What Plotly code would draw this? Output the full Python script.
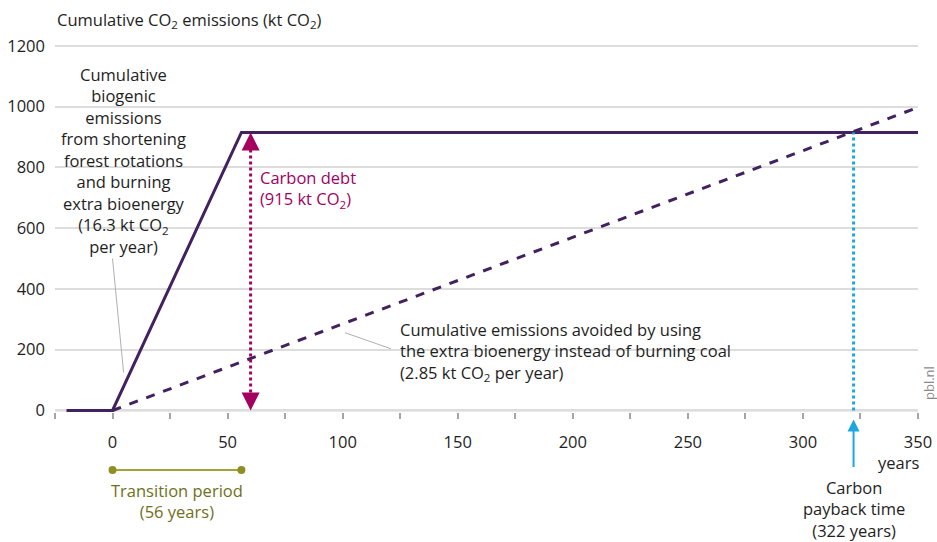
import plotly.graph_objects as go

# ---- data ----
bio_years = [-20, 0, 56, 350]
bio_cum = [0, 0, 915, 915]
coal_years = [0, 350]
coal_rate = 2.85
coal_cum = [0, coal_rate * 350]
debt_x = 60
debt_value = 915
payback_year = 322
transition_years = [0, 56]
y_ticks = [0, 200, 400, 600, 800, 1000, 1200]
x_ticks = [0, 50, 100, 150, 200, 250, 300, 350]

FONT = "Open Sans"
FS = 16.5
PURPLE = "#42215f"
MAGENTA = "#a3005f"
CYAN = "#1aa7e2"
OLIVE_LINE = "#a3a33a"
OLIVE_TEXT = "#6f7020"
TXT = "#1e1e1e"

# body margin is removed via post_script, so page pixels == figure pixels
W, H = 937, 542
PL, PR, PT, PB = 55, 918, 44, 412
L, T, R, B = PL, PT, W - PR, H - PB
pw, ph = W - L - R, H - T - B


def page_to_paper(px, py):
    return (px - PL) / pw, (PB - py) / ph


fig = go.Figure()

fig.add_trace(go.Scatter(x=coal_years, y=coal_cum, mode="lines",
                         line=dict(color=PURPLE, width=3, dash="dash"),
                         hoverinfo="skip"))
fig.add_trace(go.Scatter(x=bio_years, y=bio_cum, mode="lines",
                         line=dict(color=PURPLE, width=3),
                         hoverinfo="skip"))
fig.add_trace(go.Scatter(x=[debt_x, debt_x], y=[20, debt_value - 20], mode="lines",
                         line=dict(color=MAGENTA, width=3, dash="dot"),
                         hoverinfo="skip"))
fig.add_trace(go.Scatter(x=[payback_year, payback_year], y=[0, debt_value], mode="lines",
                         line=dict(color=CYAN, width=3, dash="dot"),
                         hoverinfo="skip"))

annotations = []
annotations.append(dict(x=debt_x, y=0, ax=debt_x, ay=60, axref="x", ayref="y",
                        xref="x", yref="y", text="", showarrow=True,
                        arrowhead=2, arrowsize=1.2, arrowwidth=3, arrowcolor=MAGENTA))
annotations.append(dict(x=debt_x, y=debt_value, ax=debt_x, ay=debt_value - 60,
                        axref="x", ayref="y", xref="x", yref="y", text="",
                        showarrow=True, arrowhead=2, arrowsize=1.2, arrowwidth=3,
                        arrowcolor=MAGENTA))
annotations.append(dict(x=payback_year, y=0, xref="x", yref="y", ax=0, ay=58,
                        text="", showarrow=True, standoff=9, arrowhead=2,
                        arrowsize=1.2, arrowwidth=2, arrowcolor=CYAN))
annotations.append(dict(x=payback_year, y=0, xref="x", yref="y", yshift=-99,
                        text="Carbon<br>payback time<br>(322 years)", showarrow=False,
                        font=dict(family=FONT, size=FS, color=TXT), align="center"))
annotations.append(dict(x=debt_x + 3, y=812, xref="x", yref="y", xanchor="left",
                        yanchor="top", align="left", showarrow=False,
                        text="Carbon debt<br>(915 kt CO<sub>2</sub>)",
                        font=dict(family=FONT, size=FS, color=MAGENTA)))
annotations.append(dict(x=124, y=312, xref="x", yref="y", xanchor="left",
                        yanchor="top", align="left", showarrow=False,
                        text="Cumulative emissions avoided by using<br>the extra bioenergy instead of burning coal<br>(2.85 kt CO<sub>2</sub> per year)",
                        font=dict(family=FONT, size=FS, color=TXT)))
annotations.append(dict(x=4.8, y=1150, xref="x", yref="y", xanchor="center",
                        yanchor="top", align="center", showarrow=False,
                        text="Cumulative<br>biogenic<br>emissions<br>from shortening<br>forest rotations<br>and burning<br>extra bioenergy<br>(16.3 kt CO<sub>2</sub><br>per year)",
                        font=dict(family=FONT, size=FS, color=TXT)))
annotations.append(dict(x=(transition_years[0] + transition_years[1]) / 2, y=0,
                        xref="x", yref="y", yshift=-91, showarrow=False,
                        text="Transition period<br>(56 years)", align="center",
                        font=dict(family=FONT, size=FS, color=OLIVE_TEXT)))
annotations.append(dict(x=350, y=0, xref="x", yref="y", yshift=-52, xshift=-20,
                        showarrow=False, text="years",
                        font=dict(family=FONT, size=FS, color=TXT)))
tx, ty = page_to_paper(55, 20)
annotations.append(dict(x=tx, y=ty, xref="paper", yref="paper", xanchor="left",
                        yanchor="middle", showarrow=False,
                        text="Cumulative CO<sub>2</sub> emissions (kt CO<sub>2</sub>)",
                        font=dict(family=FONT, size=FS, color=TXT)))
px_, py_ = page_to_paper(929, 383)
annotations.append(dict(x=px_, y=py_, xref="paper", yref="paper", xanchor="center",
                        yanchor="middle", showarrow=False, text="pbl.nl", textangle=-90,
                        font=dict(family=FONT, size=13, color="#8a8a8a")))

shapes = [
    dict(type="line", x0=-25, x1=350, y0=0, y1=0, xref="x", yref="y",
         line=dict(color="#a6a6a6", width=1.5), layer="below"),
    dict(type="line", x0=101, y0=256, x1=121, y1=203, xref="x", yref="y",
         line=dict(color="#b0b0b0", width=1)),
    dict(type="line", x0=0, y0=500, x1=4.8, y1=125, xref="x", yref="y",
         line=dict(color="#b0b0b0", width=1)),
]
_, trans_y = page_to_paper(0, 470)
shapes.append(dict(type="line", xref="x", yref="paper", x0=transition_years[0],
                   x1=transition_years[1], y0=trans_y, y1=trans_y,
                   line=dict(color=OLIVE_LINE, width=2)))
for t in transition_years:
    shapes.append(dict(type="circle", xref="x", yref="paper", xsizemode="pixel",
                       ysizemode="pixel", xanchor=t, yanchor=trans_y,
                       x0=-4, x1=4, y0=-4, y1=4,
                       fillcolor="#8e8e25", line=dict(width=0)))

fig.update_layout(
    width=W, height=H,
    margin=dict(l=L, r=R, t=T, b=B, pad=0, autoexpand=False),
    paper_bgcolor="white", plot_bgcolor="white",
    showlegend=False,
    font=dict(family=FONT, size=FS, color=TXT),
    annotations=annotations,
    shapes=shapes,
    xaxis=dict(range=[-25, 350], tickvals=x_ticks, ticktext=[str(v) for v in x_ticks],
               showgrid=False, zeroline=False, showline=False,
               ticks="outside", ticklen=6, tickcolor="#a6a6a6", tickwidth=1.5,
               ticklabelstandoff=9,
               minor=dict(dtick=25, tick0=0, ticks="outside", ticklen=6,
                          tickcolor="#a6a6a6", tickwidth=1.5, showgrid=False),
               tickfont=dict(family=FONT, size=FS, color=TXT), fixedrange=True),
    yaxis=dict(range=[-5, 1206], tickvals=y_ticks, ticktext=[str(v) for v in y_ticks],
               showgrid=True, gridcolor="#dddddd", gridwidth=1.5, zeroline=False,
               showline=False, ticks="", ticklabelstandoff=9,
               tickfont=dict(family=FONT, size=FS, color=TXT), fixedrange=True),
)

fig.write_html("out.html", config={"displayModeBar": False},
               post_script="document.body.style.margin='0';document.body.style.overflow='hidden';")
